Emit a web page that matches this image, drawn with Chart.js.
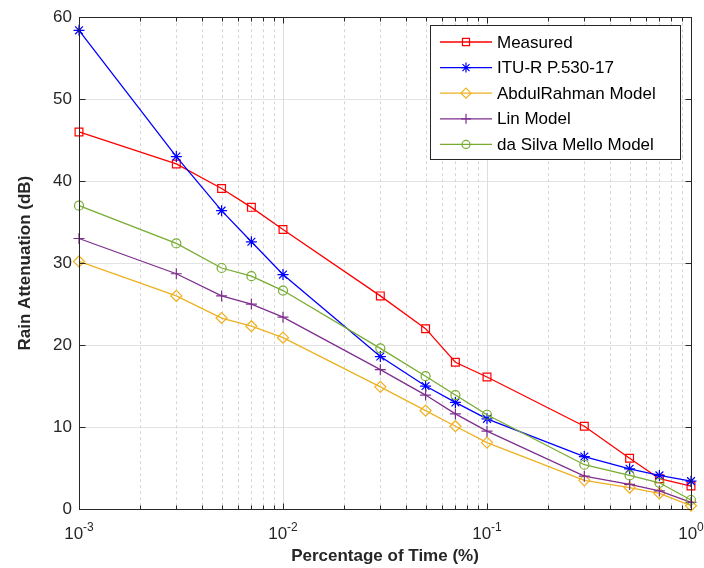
<!DOCTYPE html>
<html>
<head>
<meta charset="utf-8">
<script src="https://cdn.jsdelivr.net/npm/chart.js@4.4.0/dist/chart.umd.min.js"></script>
<style>
  body { margin: 0; background: #fff; }
  canvas { display: block; }
</style>
</head>
<body>
<canvas id="myChart" width="704" height="568"></canvas>
<script>
// percentage of time (%)
var timePct = [0.001, 0.003, 0.005, 0.007, 0.01, 0.03, 0.05, 0.07, 0.1, 0.3, 0.5, 0.7, 1];

var measured   = [46.0, 42.1, 39.1, 36.8, 34.1, 26.0, 22.0, 17.9, 16.1, 10.1, 6.2, 3.7, 2.8];
var ituR       = [58.4, 43.0, 36.4, 32.6, 28.6, 18.6, 15.0, 13.0, 11.0, 6.4, 4.9, 4.1, 3.4];
var abdulRahman = [30.2, 26.0, 23.3, 22.3, 20.9, 14.9, 12.0, 10.1, 8.1, 3.5, 2.6, 1.9, 0.4];
var linModel   = [33.0, 28.7, 26.0, 25.0, 23.4, 17.0, 13.9, 11.6, 9.5, 4.0, 3.0, 2.2, 0.8];
var daSilva    = [37.0, 32.4, 29.4, 28.4, 26.65, 19.6, 16.2, 13.9, 11.5, 5.4, 4.1, 3.2, 1.1];

var seriesNames = ['Measured', 'ITU-R P.530-17', 'AbdulRahman Model', 'Lin Model', 'da Silva Mello Model'];
var seriesData = [measured, ituR, abdulRahman, linModel, daSilva];
var seriesColors = ['#FF0000', '#0000FF', '#EDB120', '#7E2F8E', '#77AC30'];
var seriesMarkers = ['rect', 'star', 'rectRot', 'cross', 'circle'];
var markerSizes = [5.5, 5.5, 5.5, 5.5, 4.5];

var yTicks = [0, 10, 20, 30, 40, 50, 60];
var xDecades = [-3, -2, -1, 0];

var FONT = '"Liberation Sans", Arial, Helvetica, sans-serif';
var AXIS_COLOR = '#262626';

var datasets = seriesNames.map(function(name, i) {
    return {
        label: name,
        data: timePct.map(function(t, j) { return { x: t, y: seriesData[i][j] }; }),
        borderColor: seriesColors[i],
        backgroundColor: 'rgba(0,0,0,0)',
        borderWidth: 1.3,
        pointStyle: seriesMarkers[i],
        pointRadius: markerSizes[i],
        pointBorderWidth: 1.2,
        pointBorderColor: seriesColors[i],
        pointBackgroundColor: 'rgba(0,0,0,0)',
        tension: 0,
        clip: false,
        order: seriesNames.length - i
    };
});

// vertical log grid, under the data
var logGrid = {
    id: 'logGrid',
    beforeDatasetsDraw: function(chart) {
        var ctx = chart.ctx, x = chart.scales.x, a = chart.chartArea;
        ctx.save();
        ctx.lineWidth = 1;
        xDecades.forEach(function(d) {
            for (var m = 1; m <= 9; m++) {
                var v = m * Math.pow(10, d);
                if (v <= 0.001 || v >= 1) continue;
                var px = Math.round(x.getPixelForValue(v)) + 0.5;
                ctx.beginPath();
                if (m === 1) {
                    ctx.setLineDash([]);
                    ctx.strokeStyle = '#dedede';
                } else {
                    ctx.setLineDash([3, 3]);
                    ctx.strokeStyle = '#d6d6d6';
                }
                ctx.moveTo(px, a.top);
                ctx.lineTo(px, a.bottom);
                ctx.stroke();
            }
        });
        ctx.restore();
    }
};

// box, inward ticks, x labels, titles, legend
var decor = {
    id: 'decor',
    afterDraw: function(chart) {
        var ctx = chart.ctx, x = chart.scales.x, y = chart.scales.y, a = chart.chartArea;
        var L = Math.round(a.left) + 0.5, R = Math.round(a.right) + 0.5;
        var T = Math.round(a.top) + 0.5, B = Math.round(a.bottom) + 0.5;
        ctx.save();
        ctx.strokeStyle = AXIS_COLOR;
        ctx.lineWidth = 1;
        ctx.strokeRect(L, T, R - L, B - T);

        ctx.beginPath();
        yTicks.forEach(function(v) {
            var py = Math.round(y.getPixelForValue(v)) + 0.5;
            ctx.moveTo(L, py); ctx.lineTo(L + 6, py);
            ctx.moveTo(R, py); ctx.lineTo(R - 6, py);
        });
        xDecades.forEach(function(d) {
            for (var m = 1; m <= 9; m++) {
                var v = m * Math.pow(10, d);
                if (v > 1) continue;
                var px = Math.round(x.getPixelForValue(v)) + 0.5;
                var len = m === 1 ? 6 : 4;
                ctx.moveTo(px, B); ctx.lineTo(px, B - len);
                ctx.moveTo(px, T); ctx.lineTo(px, T + len);
            }
        });
        ctx.stroke();

        // x tick labels 10^n
        ctx.fillStyle = AXIS_COLOR;
        ctx.textBaseline = 'alphabetic';
        ctx.textAlign = 'left';
        xDecades.forEach(function(d) {
            var px = x.getPixelForValue(Math.pow(10, d));
            var exp = d === 0 ? '0' : String(d);
            ctx.font = '17px ' + FONT;
            var w1 = ctx.measureText('10').width;
            ctx.font = '12px ' + FONT;
            var w2 = ctx.measureText(exp).width;
            var sx = px - (w1 + w2) / 2;
            ctx.font = '17px ' + FONT;
            ctx.fillText('10', sx, 539);
            ctx.font = '12px ' + FONT;
            ctx.fillText(exp, sx + w1, 531);
        });

        // axis titles
        ctx.font = 'bold 17px ' + FONT;
        ctx.textAlign = 'center';
        ctx.fillText('Percentage of Time (%)', (a.left + a.right) / 2, 561);
        ctx.save();
        ctx.translate(30, (a.top + a.bottom) / 2);
        ctx.rotate(-Math.PI / 2);
        ctx.fillText('Rain Attenuation (dB)', 0, 0);
        ctx.restore();

        // legend
        var lx = 430.5, ly = 25.5, lw = 250, lh = 134;
        ctx.fillStyle = '#fff';
        ctx.fillRect(lx, ly, lw, lh);
        ctx.strokeStyle = AXIS_COLOR;
        ctx.strokeRect(lx, ly, lw, lh);
        ctx.font = '17px ' + FONT;
        ctx.textAlign = 'left';
        ctx.textBaseline = 'middle';
        seriesNames.forEach(function(name, i) {
            var ry = 42 + i * 25.6;
            ctx.strokeStyle = seriesColors[i];
            ctx.lineWidth = 1.3;
            ctx.beginPath();
            ctx.moveTo(440, ry); ctx.lineTo(492, ry);
            ctx.stroke();
            ctx.lineWidth = 1.2;
            ctx.fillStyle = 'rgba(0,0,0,0)';
            Chart.helpers.drawPoint(ctx, {
                pointStyle: seriesMarkers[i],
                radius: markerSizes[i] - 0.5,
                rotation: 0,
                borderWidth: 1.2
            }, 466, ry);
            ctx.fillStyle = '#000';
            ctx.fillText(name, 497, ry + 1);
        });
        ctx.restore();
    }
};

var chr = document.getElementById('myChart').getContext('2d');
var myChart = new Chart(chr, {
    type: 'line',
    data: { datasets: datasets },
    options: {
        responsive: false,
        animation: false,
        layout: { padding: { top: 13, right: 13, left: 0, bottom: 0 } },
        plugins: {
            legend: { display: false },
            tooltip: { enabled: false }
        },
        scales: {
            x: {
                type: 'logarithmic',
                min: 0.001,
                max: 1,
                ticks: { display: false },
                grid: { display: false },
                border: { display: false },
                afterFit: function(s) { s.height = 59; }
            },
            y: {
                min: 0,
                max: 60,
                ticks: {
                    stepSize: 10,
                    color: AXIS_COLOR,
                    padding: 7,
                    font: { family: FONT, size: 17 }
                },
                grid: { color: '#e3e3e3', drawTicks: false },
                border: { display: false },
                afterFit: function(s) { s.width = 79; }
            }
        }
    },
    plugins: [logGrid, decor]
});
</script>
</body>
</html>
